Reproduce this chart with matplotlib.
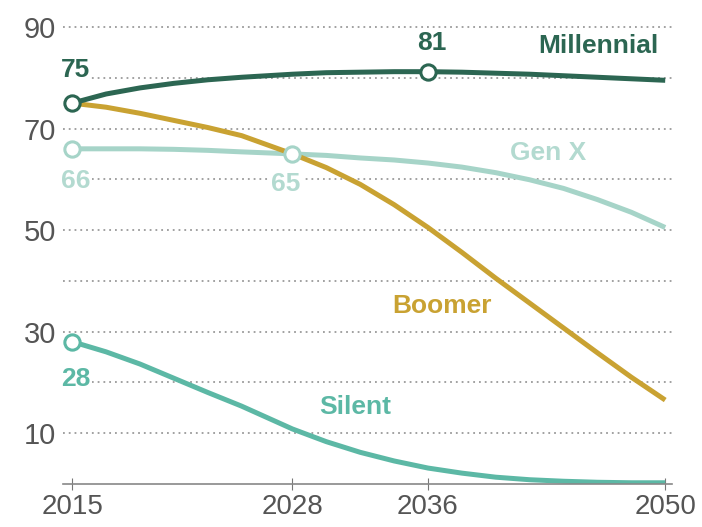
import matplotlib.pyplot as plt

# values
years = [2015, 2017, 2019, 2021, 2023, 2025, 2028, 2030, 2032, 2034, 2036, 2038, 2040, 2042, 2044, 2046, 2048, 2050]
millennial = [75, 76.8, 78, 78.9, 79.6, 80.1, 80.7, 81, 81.1, 81.2, 81.2, 81.1, 80.9, 80.7, 80.4, 80.1, 79.8, 79.5]
genx = [66, 66, 66, 65.9, 65.7, 65.4, 65, 64.7, 64.2, 63.8, 63.2, 62.4, 61.3, 59.9, 58.2, 56, 53.5, 50.5]
boomer = [75, 74.2, 73, 71.6, 70.2, 68.6, 65, 62.3, 59, 55, 50.5, 45.6, 40.5, 35.6, 30.7, 25.8, 21, 16.5]
silent = [28, 26, 23.6, 20.8, 18, 15.3, 10.8, 8.3, 6.2, 4.5, 3.1, 2.1, 1.3, 0.8, 0.5, 0.3, 0.2, 0.2]

xticks = [2015, 2028, 2036, 2050]
yticks = [10, 30, 50, 70, 90]
ygrid = [10, 20, 30, 40, 50, 60, 70, 80, 90]

c_mil = '#2c6652'
c_genx = '#a6d4c8'
c_genx_txt = '#b3dad0'
c_boom = '#c9a232'
c_sil = '#5cb8a5'

plt.rcParams['font.family'] = ['Liberation Sans', 'DejaVu Sans']

fig = plt.figure(figsize=(7.02, 5.27), dpi=100)
ax = fig.add_axes([0.09, 0.082, 0.8675, 0.886])

for g in ygrid:
    ax.axhline(g, color='#9a9a9a', linestyle=(0, (1, 2.2)), linewidth=1.3, zorder=0)

lw = 3.6
ax.plot(years, silent, color=c_sil, lw=lw, solid_capstyle='butt', zorder=2)
ax.plot(years, genx, color=c_genx, lw=lw, solid_capstyle='butt', zorder=2)
ax.plot(years, boomer, color=c_boom, lw=lw, solid_capstyle='butt', zorder=3)
ax.plot(years, millennial, color=c_mil, lw=lw, solid_capstyle='butt', zorder=4)

mk = dict(marker='o', markersize=11, markerfacecolor='white', markeredgewidth=2.2, linestyle='none', zorder=5)
ax.plot([years[0], years[10]], [millennial[0], millennial[10]], markeredgecolor=c_mil, **mk)
ax.plot([years[0], years[6]], [genx[0], genx[6]], markeredgecolor=c_genx, **mk)
ax.plot([years[0]], [silent[0]], markeredgecolor=c_sil, **mk)

bold = dict(fontsize=19, fontweight='bold', ha='center', va='center', zorder=6)
box = dict(facecolor='white', edgecolor='none', pad=1)
ax.text(2015.2, 81.5, '75', color=c_mil, bbox=box, **bold)
ax.text(2036.25, 86.8, '81', color=c_mil, **bold)
ax.text(2046.05, 86.2, 'Millennial', color=c_mil, **bold)
ax.text(2043.1, 65.2, 'Gen X', color=c_genx_txt, **bold)
ax.text(2015.2, 59.6, '66', color=c_genx_txt, bbox=box, **bold)
ax.text(2027.6, 59.0, '65', color=c_genx_txt, bbox=box, **bold)
ax.text(2036.8, 35.0, 'Boomer', color=c_boom, **bold)
ax.text(2015.2, 20.7, '28', color=c_sil, bbox=box, **bold)
ax.text(2031.7, 15.2, 'Silent', color=c_sil, **bold)

ax.set_xlim(2014.47, 2050.41)
ax.set_ylim(0, 92)
ax.set_xticks(xticks)
ax.set_yticks(yticks)
ax.tick_params(axis='x', direction='inout', length=8, color='#777777', labelsize=20,
               labelcolor='#555555', pad=3)
ax.tick_params(axis='y', length=0, labelsize=21, labelcolor='#555555', pad=5)
for s in ['top', 'right', 'left']:
    ax.spines[s].set_visible(False)
ax.spines['bottom'].set_color('#888888')
ax.spines['bottom'].set_linewidth(1.2)

fig.savefig('out.png', dpi=100)
